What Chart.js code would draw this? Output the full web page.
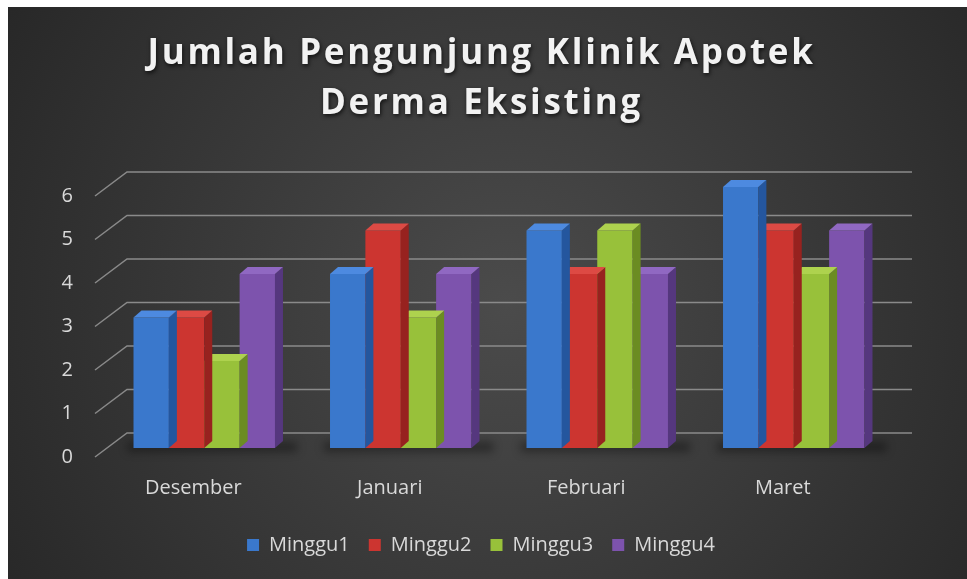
<!DOCTYPE html>
<html>
<head>
<meta charset="utf-8">
<script src="https://cdn.jsdelivr.net/npm/chart.js@4.4.0/dist/chart.umd.min.js"></script>
<style>
  html, body { margin: 0; padding: 0; background: #fff; }
  #wrap { position: absolute; left: 8px; top: 7px; width: 959px; height: 572px; }
</style>
</head>
<body>
<div id="wrap"><canvas id="chart"></canvas></div>
<script>
const labels = ["Desember", "Januari", "Februari", "Maret"];
const minggu1 = [3, 4, 5, 6];
const minggu2 = [3, 5, 4, 5];
const minggu3 = [2, 3, 5, 4];
const minggu4 = [4, 4, 4, 5];
const titleLines = ["Jumlah Pengunjung Klinik Apotek", "Derma Eksisting"];

// front, top, side
const palette = [
  ["#3a78cc", "#4d8ae0", "#24569e"],
  ["#cc3530", "#dd4a44", "#97221f"],
  ["#98c13a", "#aed24e", "#6b8c22"],
  ["#7d53ad", "#9068c2", "#55377e"],
];

const DX = 8, DY = 7;

const background = {
  id: "background",
  beforeDraw(chart) {
    const { ctx, width, height } = chart;
    const g = ctx.createRadialGradient(width * 0.52, height * 0.52, 0, width * 0.52, height * 0.52, width * 0.62);
    g.addColorStop(0, "#4b4b4b");
    g.addColorStop(1, "#272727");
    ctx.save();
    ctx.fillStyle = g;
    ctx.fillRect(0, 0, width, height);
    ctx.restore();
  },
};

// legend sits centred under the plot, not under the whole canvas
const legendShift = {
  id: "legendShift",
  afterLayout(chart) {
    chart.legend.left += 21;
    chart.legend.right += 21;
  },
};

const backWall = {
  id: "backWall",
  beforeDatasetsDraw(chart) {
    const { ctx, chartArea } = chart;
    const y = chart.scales.y;
    ctx.save();
    ctx.strokeStyle = "#8a8a8a";
    ctx.lineWidth = 1.5;
    for (let v = 0; v <= 6; v++) {
      const py = y.getPixelForValue(v);
      ctx.beginPath();
      ctx.moveTo(chartArea.left - 11, py + 9);
      ctx.lineTo(chartArea.left + 21, py - 15);
      ctx.lineTo(chartArea.right + 20, py - 15);
      ctx.stroke();
    }
    // soft shadow under the bar groups
    const base = y.getPixelForValue(0);
    chart.getDatasetMeta(0).data.forEach((first, i) => {
      const last = chart.getDatasetMeta(3).data[i];
      const l = first.x - first.width / 2 - 6, r = last.x + last.width / 2 + DX + 14;
      ctx.fillStyle = "rgba(0,0,0,0.35)";
      ctx.filter = "blur(4px)";
      ctx.fillRect(l, base - 6, r - l, 10);
      ctx.filter = "none";
    });
    ctx.restore();
  },
};

const bars3d = {
  id: "bars3d",
  afterDatasetDraw(chart, args) {
    const { ctx } = chart;
    const cols = palette[args.index];
    ctx.save();
    args.meta.data.forEach((bar) => {
      const { x, y, base, width } = bar.getProps(["x", "y", "base", "width"], true);
      const l = x - width / 2, r = x + width / 2;
      ctx.fillStyle = cols[2];
      ctx.beginPath();
      ctx.moveTo(r, y);
      ctx.lineTo(r + DX, y - DY);
      ctx.lineTo(r + DX, base - DY);
      ctx.lineTo(r, base);
      ctx.closePath();
      ctx.fill();
      ctx.fillStyle = cols[1];
      ctx.beginPath();
      ctx.moveTo(l, y);
      ctx.lineTo(l + DX, y - DY);
      ctx.lineTo(r + DX, y - DY);
      ctx.lineTo(r, y);
      ctx.closePath();
      ctx.fill();
    });
    ctx.restore();
  },
};

const titleText = {
  id: "titleText",
  afterDraw(chart) {
    const { ctx, width } = chart;
    ctx.save();
    ctx.font = "bold 35px 'Open Sans'";
    ctx.letterSpacing = "2.7px";
    ctx.textAlign = "center";
    ctx.textBaseline = "middle";
    ctx.fillStyle = "#f2f2f2";
    ctx.shadowColor = "rgba(0,0,0,0.7)";
    ctx.shadowBlur = 4;
    ctx.shadowOffsetX = 1;
    ctx.shadowOffsetY = 2;
    titleLines.forEach((t, i) => ctx.fillText(t, width / 2 - 6, 47 + i * 50));
    ctx.restore();
  },
};

const series = [minggu1, minggu2, minggu3, minggu4];
const names = ["Minggu1", "Minggu2", "Minggu3", "Minggu4"];

new Chart(document.getElementById("chart"), {
  type: "bar",
  data: {
    labels,
    datasets: series.map((d, i) => ({
      label: names[i],
      data: d,
      backgroundColor: palette[i][0],
      borderColor: palette[i][2],
      borderWidth: 0,
      barPercentage: 1,
      categoryPercentage: 0.72,
    })),
  },
  options: {
    responsive: true,
    maintainAspectRatio: false,
    animation: false,
    layout: { padding: { top: 180, left: 20, right: 75, bottom: 14 } },
    scales: {
      x: {
        grid: { display: false, drawTicks: false },
        border: { display: false },
        ticks: { color: "#d9d9d9", font: { family: "'Open Sans'", size: 20 }, padding: 28, labelOffset: -11 },
        afterFit(s) { s.height = 68; },
      },
      y: {
        min: 0,
        max: 6,
        grid: { display: false, drawTicks: false },
        border: { display: false },
        ticks: { stepSize: 1, color: "#d9d9d9", font: { family: "'Open Sans'", size: 20 }, padding: 33, labelOffset: 9 },
        afterFit(s) { s.width = 78; },
      },
    },
    plugins: {
      legend: {
        position: "bottom",
        labels: {
          color: "#d9d9d9",
          font: { family: "'Open Sans'", size: 20 },
          boxWidth: 12,
          boxHeight: 12,
          padding: 19,
        },
      },
      tooltip: { enabled: false },
    },
  },
  plugins: [background, legendShift, backWall, bars3d, titleText],
});
</script>
</body>
</html>
